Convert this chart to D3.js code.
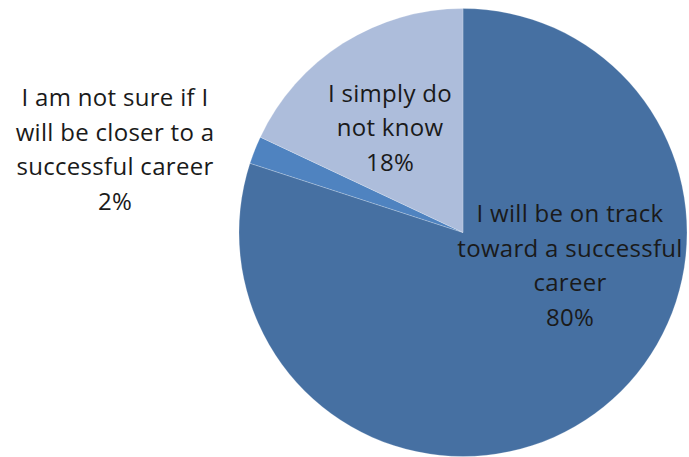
<!DOCTYPE html>
<html>
<head>
<meta charset="utf-8">
<script src="https://cdn.jsdelivr.net/npm/d3@7"></script>
<style>
  html, body { margin: 0; padding: 0; background: #fff; }
  svg { display: block; }
  text { font-family: "Open Sans", "Noto Sans", sans-serif; fill: #1a1a1a; }
</style>
</head>
<body>
<svg id="chart" width="689" height="457"></svg>
<script>
// Survey answers, clockwise from 12 o'clock
const categories = [
  "I will be on track toward a successful career",
  "I am not sure if I will be closer to a successful career",
  "I simply do not know"
];
const values = [80, 2, 18];
const labelLines = [
  ["I will be on track", "toward a successful", "career"],
  ["I am not sure if I", "will be closer to a", "successful career"],
  ["I simply do", "not know"]
];
const colors = ["#4670a2", "#4f83c0", "#adbddb"];

// Label anchor points (centre of the text block, in svg pixels)
const labelAnchors = [[570, 264], [115, 148], [390, 126]];

const W = 689, H = 457;
const cx = 463, cy = 232.5, radius = 224;
const lineHeight = 34.5;

const svg = d3.select("#chart");

const pie = d3.pie().sort(null).value(d => d.value);
const arcs = pie(categories.map((c, i) => ({ name: c, value: values[i], idx: i })));
const arc = d3.arc().innerRadius(0).outerRadius(radius);

const g = svg.append("g").attr("transform", `translate(${cx},${cy})`);
g.selectAll("path")
  .data(arcs)
  .join("path")
  .attr("d", arc)
  .attr("fill", d => colors[d.data.idx])
  .attr("stroke", "#ffffff")
  .attr("stroke-opacity", 0.35)
  .attr("stroke-width", 0.6);

// Data labels: category name lines followed by the percentage
const fmt = d3.format(".0f");
const labels = svg.append("g")
  .attr("font-size", 24)
  .attr("letter-spacing", 0.3)
  .attr("text-anchor", "middle");
arcs.forEach(d => {
  const i = d.data.idx;
  const lines = labelLines[i].concat([fmt(values[i]) + "%"]);
  const [ax, ay] = labelAnchors[i];
  const top = ay - (lines.length - 1) * lineHeight / 2;
  const t = labels.append("text")
    .attr("x", ax)
    .attr("y", top)
    .attr("dominant-baseline", "central");
  lines.forEach((ln, k) => {
    t.append("tspan")
      .attr("x", ax)
      .attr("y", top + k * lineHeight)
      .text(ln);
  });
});
</script>
</body>
</html>
